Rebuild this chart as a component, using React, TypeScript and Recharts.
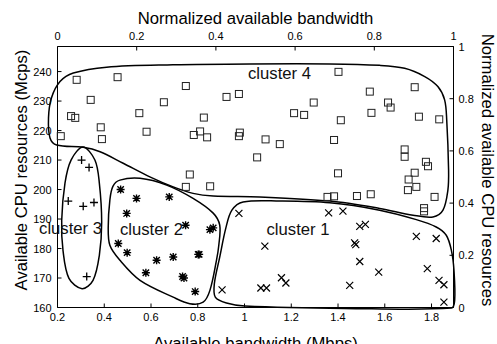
import React from 'react';
import { ScatterChart, Scatter, XAxis, YAxis, ReferenceArea } from 'recharts';

const FONT = '"Liberation Sans", Arial, Helvetica, sans-serif';

const X_DOMAIN: [number, number] = [0.2, 1.894];
const Y_DOMAIN: [number, number] = [160, 248.5];
const bwTicks = [0.2, 0.4, 0.6, 0.8, 1, 1.2, 1.4, 1.6, 1.8];
const cpuTicks = [160, 170, 180, 190, 200, 210, 220, 230, 240];
const normTicks = [0, 0.2, 0.4, 0.6, 0.8, 1];
// normalized corners, only there so the top / right axes get a scale
const normCorners = [[0, 0], [1, 1]];

// cluster 4 (squares)
const squares = [
  [0.214, 218.1], [0.282, 237.2], [0.258, 224.9], [0.276, 224.3], [0.342, 230.4], [0.385, 221.1],
  [0.39, 217.1], [0.457, 238.1], [0.55, 225.9], [0.581, 219.6], [0.655, 229.6], [0.749, 235.1],
  [0.826, 224.4], [0.783, 218.5], [0.81, 219.7], [0.84, 217.7], [0.923, 231.4], [0.976, 232.4],
  [0.98, 219.3], [0.976, 218.1], [0.766, 205.1], [0.749, 200.9], [0.853, 201.1],
  [1.402, 239.9], [1.536, 233.2], [1.728, 234.7], [1.296, 229.5], [1.212, 225.9], [1.255, 225.3],
  [1.412, 223.5], [1.543, 226.0], [1.614, 229.5], [1.625, 227.8], [1.746, 224.7], [1.833, 223.8],
  [1.09, 217.0], [1.151, 215.4], [1.054, 210.9], [1.383, 216.8], [1.685, 213.6], [1.685, 211.1],
  [1.776, 209.4], [1.785, 207.9], [1.4, 205.5], [1.728, 205.7], [1.702, 203.4], [1.735, 200.9],
  [1.699, 199.8], [1.813, 197.5], [1.355, 197.5], [1.383, 197.7], [1.481, 197.8], [1.54, 198.4],
  [1.768, 193.7], [1.768, 192.6],
];

// cluster 1 (x)
const crosses = [
  [1.36, 192.1], [1.421, 192.7], [1.493, 187.5], [1.517, 188.2], [1.087, 180.8], [1.471, 181.9],
  [1.476, 181.3], [1.493, 175.6], [1.574, 172.0], [1.735, 184.1], [1.82, 183.4], [1.782, 173.2],
  [1.832, 169.2], [1.853, 167.7], [1.853, 161.8], [1.158, 170.1], [1.177, 168.3], [1.07, 166.6],
  [1.094, 166.6], [1.45, 167.5], [0.976, 191.9], [0.904, 166.0],
];

// cluster 3 (+)
const pluses = [
  [0.303, 210.0], [0.335, 207.5], [0.246, 196.1], [0.31, 194.3], [0.356, 195.6], [0.325, 170.5],
];

// cluster 2 (*)
const stars = [
  [0.47, 200.0], [0.538, 197.0], [0.678, 197.5], [0.496, 191.9], [0.748, 187.9], [0.852, 186.4],
  [0.866, 187.0], [0.46, 181.7], [0.498, 178.6], [0.624, 176.0], [0.695, 177.1], [0.578, 171.8],
  [0.735, 170.5], [0.741, 170.0], [0.802, 178.0], [0.806, 178.0], [0.789, 165.4],
];

// hand-drawn cluster boundaries, in data units
const cluster4Outline = [
  [0.1615, 224.3], [0.1744, 231.1], [0.2107, 236.6], [0.2675, 239.5], [0.41, 241.5], [0.694, 242.3],
  [1.023, 242.6], [1.365, 242.6], [1.578, 242.1], [1.685, 241.1], [1.771, 238.3], [1.827, 234.9],
  [1.856, 230.4], [1.865, 223.6], [1.873, 206.6], [1.87, 199.8], [1.849, 193.0], [1.806, 190.7],
  [1.721, 191.3], [1.578, 193.6], [1.365, 196.1], [1.065, 197.5], [0.866, 197.8], [0.78, 198.7],
  [0.695, 200.9], [0.595, 204.3], [0.481, 208.9], [0.382, 212.8], [0.31, 214.3], [0.1966, 215.1],
  [0.168, 217.5],
];
const cluster1Outline = [
  [0.994, 195.8], [1.151, 196.1], [1.365, 195.5], [1.578, 193.0], [1.735, 189.8], [1.82, 187.3],
  [1.863, 184.5], [1.885, 179.4], [1.896, 172.6], [1.899, 162.4], [1.885, 159.8], [1.429, 159.7],
  [1.001, 160.5], [0.923, 161.5], [0.875, 163.5], [0.871, 168.1], [0.894, 177.1], [0.92, 186.9],
  [0.946, 193.0],
];
const cluster2Outline = [
  [0.467, 203.2], [0.553, 203.8], [0.667, 201.5], [0.78, 197.0], [0.866, 192.0], [0.894, 187.9],
  [0.89, 181.1], [0.88, 176.0], [0.852, 165.8], [0.823, 161.8], [0.766, 161.3], [0.695, 163.5],
  [0.553, 169.2], [0.467, 176.0], [0.424, 181.1], [0.417, 187.3], [0.424, 196.4], [0.437, 201.1],
];
const cluster3Outline = [
  [0.309, 214.4], [0.36, 210.0], [0.379, 202.2], [0.389, 188.9], [0.379, 177.7], [0.352, 169.2],
  [0.305, 166.4], [0.249, 169.9], [0.2235, 179.4], [0.218, 189.6], [0.232, 202.2], [0.258, 210.0],
];

const clusterNames = ['cluster 4', 'cluster 1', 'cluster 2', 'cluster 3'];
const clusterLabelAt = [[1.015, 239.2], [1.094, 186.5], [0.467, 186.5], [0.121, 186.9]];

const outlines = [cluster4Outline, cluster1Outline, cluster2Outline, cluster3Outline];

const toPoints = (arr: number[][]) => arr.map(([x, y]) => ({ x, y }));
const fmt = (v: number) => String(Math.round(v * 10) / 10);

// closed Catmull-Rom through the boundary points
function smoothClosed(pts: number[][]): string {
  const n = pts.length;
  const dist = (a: number[], b: number[]) => Math.hypot(b[0] - a[0], b[1] - a[1]) || 1;
  let d = `M${pts[0][0].toFixed(2)},${pts[0][1].toFixed(2)}`;
  for (let i = 0; i < n; i++) {
    const p0 = pts[(i - 1 + n) % n];
    const p1 = pts[i];
    const p2 = pts[(i + 1) % n];
    const p3 = pts[(i + 2) % n];
    const d01 = dist(p0, p1);
    const d12 = dist(p1, p2);
    const d23 = dist(p2, p3);
    const k1 = d12 / (3 * (d01 + d12));
    const k2 = d12 / (3 * (d12 + d23));
    const c1x = p1[0] + (p2[0] - p0[0]) * k1;
    const c1y = p1[1] + (p2[1] - p0[1]) * k1;
    const c2x = p2[0] - (p3[0] - p1[0]) * k2;
    const c2y = p2[1] - (p3[1] - p1[1]) * k2;
    d += ` C${c1x.toFixed(2)},${c1y.toFixed(2)} ${c2x.toFixed(2)},${c2y.toFixed(2)} ${p2[0].toFixed(2)},${p2[1].toFixed(2)}`;
  }
  return d + 'Z';
}

const Square = (p: any) => (
  <rect x={p.cx - 3.5} y={p.cy - 3.5} width={7} height={7} fill="none" stroke="#222" strokeWidth={1} />
);
const Plus = (p: any) => (
  <path d={`M${p.cx - 4},${p.cy}H${p.cx + 4}M${p.cx},${p.cy - 4}V${p.cy + 4}`} stroke="#000" strokeWidth={1.3} fill="none" />
);
const Cross = (p: any) => (
  <path
    d={`M${p.cx - 3.5},${p.cy - 3.5}L${p.cx + 3.5},${p.cy + 3.5}M${p.cx - 3.5},${p.cy + 3.5}L${p.cx + 3.5},${p.cy - 3.5}`}
    stroke="#000" strokeWidth={1.2} fill="none"
  />
);
const Star = (p: any) => (
  <path
    d={`M${p.cx - 4},${p.cy}H${p.cx + 4}M${p.cx},${p.cy - 4}V${p.cy + 4}M${p.cx - 3.2},${p.cy - 3.2}L${p.cx + 3.2},${p.cy + 3.2}M${p.cx - 3.2},${p.cy + 3.2}L${p.cx + 3.2},${p.cy - 3.2}`}
    stroke="#000" strokeWidth={1.4} fill="none"
  />
);
const Nothing = () => <g />;

// the reference area spans the whole domain, its rect gives the pixel mapping
const renderOutlines = (props: any) => {
  const { x, y, width, height } = props;
  const sx = (v: number) => x + ((v - X_DOMAIN[0]) / (X_DOMAIN[1] - X_DOMAIN[0])) * width;
  const sy = (v: number) => y + ((Y_DOMAIN[1] - v) / (Y_DOMAIN[1] - Y_DOMAIN[0])) * height;
  return (
    <g>
      {outlines.map((o, i) => (
        <path key={i} d={smoothClosed(o.map(([a, b]) => [sx(a), sy(b)]))} fill="none" stroke="#000" strokeWidth={1.5} />
      ))}
      {clusterNames.map((name, i) => (
        <text key={name} x={sx(clusterLabelAt[i][0])} y={sy(clusterLabelAt[i][1])} fontSize={16.7}
          fontFamily={FONT} dominantBaseline="central" fill="#111">
          {name}
        </text>
      ))}
    </g>
  );
};

const tickText = { fontSize: 11, fontFamily: FONT, fill: '#000' };

const BottomTick = ({ x, y, payload }: any) => (
  <g>
    <line x1={x} y1={y} x2={x} y2={y - 4} stroke="#000" />
    <text x={x} y={y + 13} textAnchor="middle" {...tickText}>{fmt(payload.value)}</text>
  </g>
);
const TopTick = ({ x, y, payload }: any) => (
  <g>
    <line x1={x} y1={y} x2={x} y2={y + 4} stroke="#000" />
    <text x={x} y={y - 7} textAnchor="middle" {...tickText}>{fmt(payload.value)}</text>
  </g>
);
const LeftTick = ({ x, y, payload }: any) => (
  <g>
    <line x1={x} y1={y} x2={x + 4} y2={y} stroke="#000" />
    <text x={x - 6} y={y + 4} textAnchor="end" {...tickText}>{fmt(payload.value)}</text>
  </g>
);
const RightTick = ({ x, y, payload }: any) => (
  <g>
    <line x1={x} y1={y} x2={x - 4} y2={y} stroke="#000" />
    <text x={x + 5} y={y + 4} textAnchor="start" {...tickText}>{fmt(payload.value)}</text>
  </g>
);

const titleStyle = { fontSize: 16.7, fontFamily: FONT, fill: '#000' };

const BottomTitle = ({ viewBox }: any) => (
  <text x={viewBox.x + viewBox.width / 2} y={viewBox.y + 41} textAnchor="middle" {...titleStyle}>
    Available bandwidth (Mbps)
  </text>
);
const TopTitle = ({ viewBox }: any) => (
  <text x={viewBox.x + viewBox.width / 2} y={viewBox.y + 24} textAnchor="middle" {...titleStyle}>
    Normalized available bandwidth
  </text>
);
const LeftTitle = ({ viewBox }: any) => {
  const cx = viewBox.x + 27;
  const cy = 170;
  return (
    <text x={cx} y={cy} transform={`rotate(-90 ${cx} ${cy})`} textAnchor="middle" {...titleStyle}>
      Available CPU resources (Mcps)
    </text>
  );
};
const RightTitle = ({ viewBox }: any) => {
  const cx = viewBox.x + 28;
  const cy = 170;
  return (
    <text x={cx} y={cy} transform={`rotate(90 ${cx} ${cy})`} textAnchor="middle" {...titleStyle}>
      Normalized available CPU resources
    </text>
  );
};

const axisLine = { stroke: '#000', strokeWidth: 1 };

const App: React.FC = () => {
  return (
    <div style={{ position: 'absolute', left: 0, top: 0, width: 497, height: 344, background: '#fff' }}>
      <ScatterChart width={497} height={344} margin={{ top: 0, right: 0, bottom: 0, left: 0 }}>
        <XAxis
          dataKey="x" type="number" domain={X_DOMAIN} ticks={bwTicks} interval={0} height={36.5}
          tickSize={0} tickMargin={0} tickLine={false} axisLine={axisLine} tick={BottomTick} label={BottomTitle}
        />
        <XAxis
          xAxisId="top" dataKey="x" orientation="top" type="number" domain={[0, 1]} ticks={normTicks} interval={0} height={46.5}
          tickSize={0} tickMargin={0} tickLine={false} axisLine={axisLine} tick={TopTick} label={TopTitle}
        />
        <YAxis
          dataKey="y" type="number" domain={Y_DOMAIN} ticks={cpuTicks} interval={0} width={57.5}
          tickSize={0} tickMargin={0} tickLine={false} axisLine={axisLine} tick={LeftTick} label={LeftTitle}
        />
        <YAxis
          yAxisId="right" dataKey="y" orientation="right" type="number" domain={[0, 1]} ticks={normTicks} interval={0} width={43.5}
          tickSize={0} tickMargin={0} tickLine={false} axisLine={axisLine} tick={RightTick} label={RightTitle}
        />
        <ReferenceArea
          x1={X_DOMAIN[0]} x2={X_DOMAIN[1]} y1={Y_DOMAIN[0]} y2={Y_DOMAIN[1]}
          ifOverflow="visible" shape={renderOutlines}
        />
        <Scatter xAxisId="top" yAxisId="right" data={toPoints(normCorners)} shape={Nothing} isAnimationActive={false} />
        <Scatter data={toPoints(squares)} shape={Square} isAnimationActive={false} />
        <Scatter data={toPoints(crosses)} shape={Cross} isAnimationActive={false} />
        <Scatter data={toPoints(pluses)} shape={Plus} isAnimationActive={false} />
        <Scatter data={toPoints(stars)} shape={Star} isAnimationActive={false} />
      </ScatterChart>
    </div>
  );
};

export default App;
